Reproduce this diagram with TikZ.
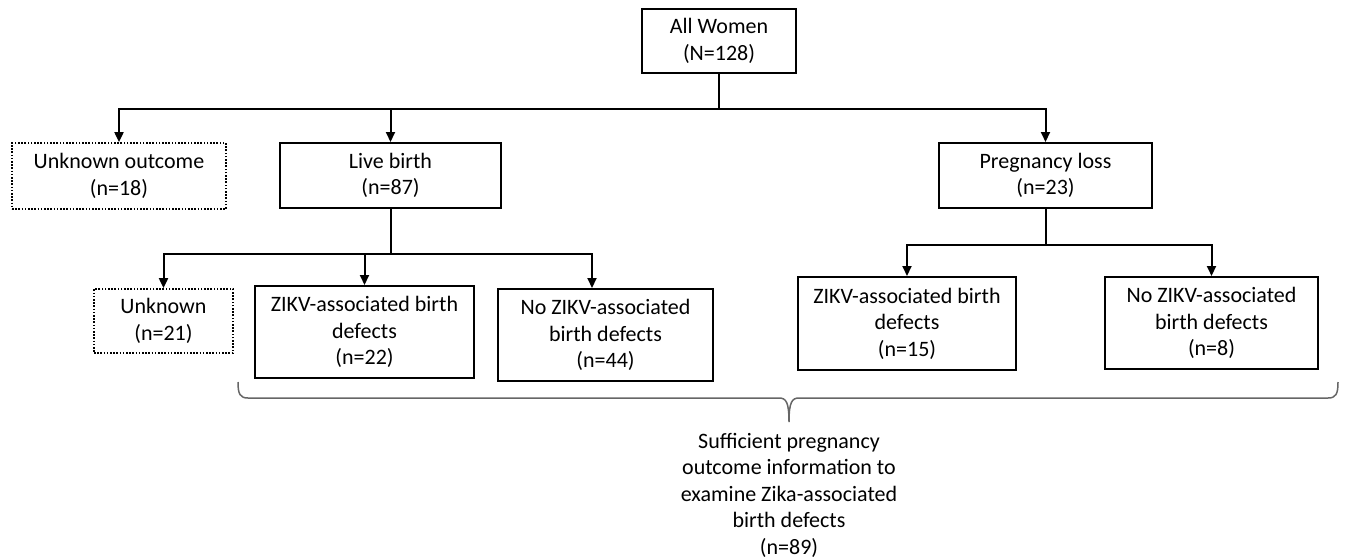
\documentclass[tikz,border=0pt]{standalone}
\usepackage{fontspec}
\setmainfont{Carlito}
\usetikzlibrary{arrows.meta}
\tikzset{
  box/.style 2 args = {draw = black, line width = 2pt, align = center, inner sep = 0pt,
    minimum width = #1, minimum height = #2, font = \fontsize{22}{26.5}\selectfont},
  unsure/.style = {line width = 1.8pt, dash pattern = on 1.6pt off 1.6pt},
  link/.style = {draw = black, line width = 2pt},
  arrow/.style = {link, -{Triangle[length = 10pt, width = 9pt]}},
}
\begin{document}
\begin{tikzpicture}[x = 1pt, y = -1pt]
\path[use as bounding box] (0,0) rectangle (1347,558);
\node[box = {154pt}{64pt}] (all) at (719,41) {All Women\\(N=128)};
\node[box = {214pt}{66pt}, unsure] (unkout) at (119,176) {Unknown outcome\\(n=18)};
\node[box = {221pt}{65pt}] (live) at (390.5,175.5) {Live birth\\(n=87)};
\node[box = {213pt}{65pt}] (loss) at (1045.5,175.5) {Pregnancy loss\\(n=23)};
\node[box = {139pt}{64pt}, unsure] (unk) at (163.5,321) {Unknown\\(n=21)};
\node[box = {219pt}{92pt}] (zikvlive) at (364.5,332) {ZIKV-associated birth\\defects\\(n=22)};
\node[box = {215pt}{92pt}] (nozikvlive) at (605.5,335) {No ZIKV-associated\\birth defects\\(n=44)};
\node[box = {218pt}{93pt}] (zikvloss) at (907,323.5) {ZIKV-associated birth\\defects\\(n=15)};
\node[box = {213pt}{92pt}] (nozikvloss) at (1211.5,323) {No ZIKV-associated\\birth defects\\(n=8)};
\coordinate (forkall) at ([yshift = -35pt]all.south);
\coordinate (forklive) at ([yshift = -45pt]live.south);
\coordinate (forkloss) at ([yshift = -36pt]loss.south);
\draw[link] (all.south) -- (forkall);
\foreach \n in {unkout, live, loss} \draw[arrow] (forkall) -| (\n.north);
\draw[link] (live.south) -- (forklive);
\foreach \n in {unk, zikvlive} \draw[arrow] (forklive) -| (\n.north);
\draw[arrow] (forklive) -| ([xshift = -13.5pt]nozikvlive.north);
\draw[link] (loss.south) -- (forkloss);
\foreach \n in {zikvloss, nozikvloss} \draw[arrow] (forkloss) -| (\n.north);
\definecolor{bracegray}{gray}{0.4}
\draw[draw = bracegray, line width = 1.5pt] (238,382) .. controls (238,394) and (240,398) .. (248,398) -- (779,398) .. controls (786,398) and (789,402) .. (789,422) .. controls (789,402) and (792,398) .. (799,398) -- (1328,398) .. controls (1336,398) and (1338,394) .. (1338,382);
\node[align = center, font = \fontsize{22}{26.5}\selectfont] (enough) at (789,495) {Sufficient pregnancy\\outcome information to\\examine Zika-associated\\birth defects\\(n=89)};
\end{tikzpicture}
\end{document}
